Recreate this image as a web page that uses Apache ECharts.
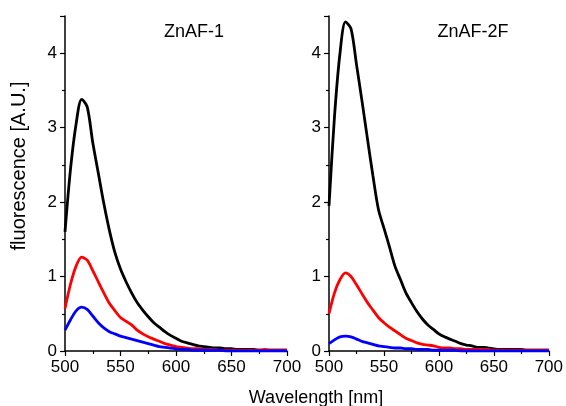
<!DOCTYPE html>
<html>
<head>
    <meta charset="utf-8">
    <title>ZnAF fluorescence</title>
    <script src="https://cdn.jsdelivr.net/npm/echarts@6/dist/echarts.min.js"></script>
</head>
<body style="margin:0">
    <div id="main" style="width:566px; height:406px;"></div>
    <script>
        var wavelength = [500, 505, 510, 515, 520, 525, 530, 535, 540, 545,
            550, 555, 560, 565, 570, 575, 580, 585, 590, 595,
            600, 605, 610, 615, 620, 625, 630, 635, 640, 645,
            650, 655, 660, 665, 670, 675, 680, 685, 690, 695, 700]

        // ZnAF-1
        var znaf1Black = [1.60, 2.45, 3.05, 3.38, 3.28, 2.80, 2.39, 1.98, 1.62, 1.32,
            1.10, 0.93, 0.78, 0.65, 0.55, 0.46, 0.38, 0.32, 0.26, 0.21,
            0.17, 0.13, 0.11, 0.09, 0.07, 0.06, 0.05, 0.04, 0.04, 0.03,
            0.03, 0.02, 0.02, 0.02, 0.02, 0.01, 0.01, 0.01, 0.01, 0.01, 0.01]
        var znaf1Red = [0.57, 0.90, 1.14, 1.26, 1.22, 1.08, 0.93, 0.78, 0.64, 0.54,
            0.45, 0.40, 0.35, 0.28, 0.23, 0.19, 0.16, 0.13, 0.10, 0.08,
            0.06, 0.05, 0.04, 0.03, 0.03, 0.02, 0.02, 0.02, 0.01, 0.01,
            0.01, 0.01, 0.01, 0.01, 0.01, 0.01, 0.02, 0.01, 0.01, 0.01, 0.01]
        var znaf1Blue = [0.28, 0.42, 0.54, 0.59, 0.56, 0.47, 0.38, 0.31, 0.26, 0.23,
            0.20, 0.18, 0.16, 0.14, 0.12, 0.10, 0.08, 0.06, 0.05, 0.04,
            0.03, 0.02, 0.02, 0.01, 0.01, 0.01, 0.01, 0.01, 0.01, 0.00,
            0.00, 0.00, 0.00, 0.00, 0.00, 0.00, 0.00, 0.00, 0.00, 0.00, 0.00]

        // ZnAF-2F
        var znaf2fBlack = [1.95, 3.15, 4.00, 4.42, 4.33, 3.85, 3.36, 2.85, 2.35, 1.90,
            1.65, 1.40, 1.14, 0.96, 0.78, 0.65, 0.53, 0.43, 0.35, 0.29,
            0.23, 0.19, 0.16, 0.13, 0.10, 0.08, 0.07, 0.05, 0.05, 0.04,
            0.03, 0.02, 0.02, 0.02, 0.02, 0.02, 0.01, 0.01, 0.01, 0.01, 0.01]
        var znaf2fRed = [0.50, 0.78, 0.96, 1.05, 1.00, 0.89, 0.77, 0.65, 0.55, 0.45,
            0.38, 0.32, 0.27, 0.22, 0.17, 0.14, 0.11, 0.09, 0.08, 0.07,
            0.05, 0.04, 0.04, 0.03, 0.03, 0.02, 0.02, 0.02, 0.02, 0.02,
            0.01, 0.01, 0.01, 0.01, 0.01, 0.01, 0.01, 0.01, 0.01, 0.01, 0.01]
        var znaf2fBlue = [0.10, 0.15, 0.19, 0.20, 0.19, 0.16, 0.13, 0.11, 0.09, 0.07,
            0.06, 0.05, 0.04, 0.04, 0.03, 0.03, 0.02, 0.02, 0.02, 0.01,
            0.01, 0.01, 0.01, 0.01, 0.00, 0.00, 0.00, 0.00, 0.00, 0.00,
            0.00, 0.00, 0.00, 0.00, 0.00, 0.00, 0.00, 0.00, 0.00, 0.00, 0.00]

        var panelTitles = ['ZnAF-1', 'ZnAF-2F']
        var xName = 'Wavelength [nm]'
        var yName = 'fluorescence [A.U.]'

        var font = 'Liberation Sans, Arial, sans-serif'
        var myChart = echarts.init(document.getElementById('main'))

        var pairs = (ys) => wavelength.map((x, i) => [x, ys[i]])

        var makeX = (idx) => ({
            type: 'value',
            gridIndex: idx,
            min: 500,
            max: 700,
            interval: 50,
            splitLine: {show: false},
            axisLine: {show: true, onZero: false, lineStyle: {color: '#000', width: 1.5}},
            axisTick: {show: true, length: 5, lineStyle: {color: '#000', width: 1.2}},
            minorTick: {show: true, splitNumber: 2, length: 3, lineStyle: {color: '#000', width: 1.2}},
            axisLabel: {color: '#000', fontFamily: font, fontSize: 17, margin: 8},
        })

        var makeY = (idx) => ({
            type: 'value',
            gridIndex: idx,
            min: 0,
            max: 4.5,
            interval: 1,
            splitLine: {show: false},
            axisLine: {show: true, lineStyle: {color: '#000', width: 1.5}},
            axisTick: {show: true, length: 5, lineStyle: {color: '#000', width: 1.2}},
            minorTick: {show: true, splitNumber: 2, length: 3, lineStyle: {color: '#000', width: 1.2}},
            axisLabel: {color: '#000', fontFamily: font, fontSize: 17, margin: 8, showMaxLabel: false},
        })

        var line = (idx, ys, color) => ({
            type: 'line',
            xAxisIndex: idx,
            yAxisIndex: idx,
            data: pairs(ys),
            symbol: 'none',
            smooth: 0.3,
            lineStyle: {color: color, width: 2.8},
        })

        var textStyle = {fontFamily: font, fontSize: 18, fontWeight: 'normal', color: '#000'}

        var option = {
            animation: false,
            title: [
                {text: panelTitles[0], left: 189, top: 18, textAlign: 'center', textStyle: textStyle},
                {text: panelTitles[1], left: 468, top: 18, textAlign: 'center', textStyle: textStyle},
                {text: xName, left: 311, top: 384, textAlign: 'center', textStyle: textStyle},
            ],
            // y axis name, sits a bit above the middle of the axis
            graphic: [{
                type: 'text',
                x: 19,
                y: 166,
                rotation: Math.PI / 2,
                style: {
                    text: yName,
                    align: 'center',
                    verticalAlign: 'middle',
                    font: '20px ' + font,
                    fill: '#000',
                }
            }],
            grid: [
                {left: 65, width: 222, top: 16, height: 335},
                {left: 329, width: 223, top: 16, height: 335},
            ],
            xAxis: [makeX(0), makeX(1)],
            yAxis: [makeY(0), makeY(1)],
            series: [
                line(0, znaf1Black, '#000000'),
                line(0, znaf1Red, '#ff0000'),
                line(0, znaf1Blue, '#0000ff'),
                line(1, znaf2fBlack, '#000000'),
                line(1, znaf2fRed, '#ff0000'),
                line(1, znaf2fBlue, '#0000ff'),
            ]
        }

        myChart.setOption(option)
    </script>
</body>
</html>
